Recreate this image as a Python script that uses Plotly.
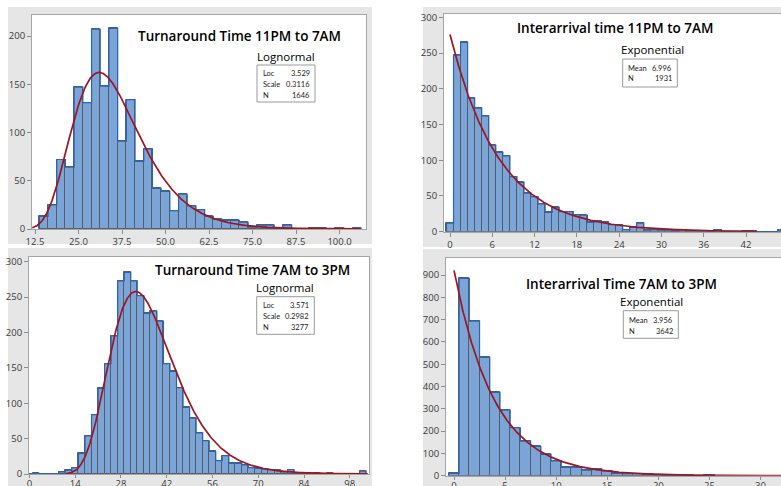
import numpy as np
import plotly.graph_objects as go

W, H = 781, 486

# ---------------- data ----------------
# Panel 1: Turnaround Time 11PM to 7AM (lognormal fit)
tat_night_title = "Turnaround Time 11PM to 7AM"
tat_night_dist = "Lognormal"
tat_night_loc = 3.529
tat_night_scale = 0.3116
tat_night_n = 1646
tat_night_bin_start = 13.75
tat_night_bin_width = 2.5
tat_night_counts = [13, 25, 72, 64, 147, 131, 207, 148, 208, 91, 134, 70, 83, 42, 39, 19,
                    36, 24, 20, 13, 10, 9, 9, 7, 2, 4, 4, 0, 4, 0, 0, 1, 1, 0, 1, 0, 1]
tat_night_xticks = [12.5, 25.0, 37.5, 50.0, 62.5, 75.0, 87.5, 100.0]
tat_night_yticks = [0, 50, 100, 150, 200]

# Panel 2: Interarrival time 11PM to 7AM (exponential fit)
ia_night_title = "Interarrival time 11PM to 7AM"
ia_night_dist = "Exponential"
ia_night_mean = 6.996
ia_night_n = 1931
ia_night_bin_start = -0.5
ia_night_bin_width = 1.0
ia_night_counts = [12, 247, 265, 187, 173, 162, 121, 111, 106, 77, 69, 54, 49, 39, 27, 34,
                   28, 28, 24, 23, 13, 15, 13, 10, 9, 3, 6, 12, 2, 3, 2, 2, 1, 3, 1, 1,
                   1, 0, 3, 0, 0, 0, 1, 1, 0, 0, 0, 2]
ia_night_xticks = [0, 6, 12, 18, 24, 30, 36, 42]
ia_night_yticks = [0, 50, 100, 150, 200, 250, 300]

# Panel 3: Turnaround Time 7AM to 3PM (lognormal fit)
tat_day_title = "Turnaround Time 7AM to 3PM"
tat_day_dist = "Lognormal"
tat_day_loc = 3.571
tat_day_scale = 0.2982
tat_day_n = 3277
tat_day_bin_start = -1.0
tat_day_bin_width = 2.0
tat_day_counts = [0, 1, 0, 0, 0, 3, 5, 9, 29, 54, 84, 121, 156, 195, 273, 285, 273, 252,
                  227, 230, 216, 156, 145, 122, 94, 79, 58, 47, 32, 19, 26, 15, 15, 13, 9,
                  8, 7, 6, 5, 3, 6, 0, 0, 0, 1, 0, 1, 0, 0, 0, 0, 4]
tat_day_xticks = [0, 14, 28, 42, 56, 70, 84, 98]
tat_day_yticks = [0, 50, 100, 150, 200, 250, 300]

# Panel 4: Interarrival Time 7AM to 3PM (exponential fit)
ia_day_title = "Interarrival Time 7AM to 3PM"
ia_day_dist = "Exponential"
ia_day_mean = 3.956
ia_day_n = 3642
ia_day_bin_start = -0.5
ia_day_bin_width = 1.0
ia_day_counts = [10, 885, 693, 531, 374, 294, 215, 155, 131, 96, 66, 37, 37, 25, 28, 21,
                 10, 9, 9, 6, 4, 1, 1, 1, 0, 3]
ia_day_xticks = [0, 5, 10, 15, 20, 25, 30]
ia_day_yticks = [0, 100, 200, 300, 400, 500, 600, 700, 800, 900]

# ---------------- styling ----------------
FONT = "Open Sans"
SMALL_FONT = "Lato"
BAR_FILL = "#7BA4D7"
BAR_SEP = "rgb(85,92,105)"
BAR_OUTLINE = "#2A64B4"
CURVE = "#A0141E"
PANEL_BG = "#E6E6E6"
FRAME = "#A6A6A6"


def px2x(p):
    return p / W


def px2y(p):
    return 1 - p / H


def lin(a, pa, b, pb, p):
    return a + (p - pa) * (b - a) / (pb - pa)


def lognormal_curve(mu, s, n, w, x0, x1):
    x = np.linspace(x0, x1, 500)
    pdf = np.exp(-((np.log(x) - mu) ** 2) / (2 * s * s)) / (x * s * np.sqrt(2 * np.pi))
    return x, pdf * n * w


def expo_curve(mean, n, w, x0, x1):
    x = np.linspace(x0, x1, 500)
    return x, n * w / mean * np.exp(-x / mean)


panels = [
    dict(title=tat_night_title, dist=tat_night_dist, counts=tat_night_counts,
         start=tat_night_bin_start, width=tat_night_bin_width,
         xticks=tat_night_xticks, xfmt="{:.1f}", yticks=tat_night_yticks,
         curve=lambda x0, x1: lognormal_curve(tat_night_loc, tat_night_scale, tat_night_n,
                                              tat_night_bin_width, x0, x1),
         curve_span=(11.7, 106.0),
         stats=[("Loc", f"{tat_night_loc:.3f}"), ("Scale", f"{tat_night_scale:.4f}"),
                ("N", f"{tat_night_n}")],
         plot=(32, 15, 366, 229), xcal=((12.5, 35), (100.0, 339.5)), ycal=((0, 229), (200, 36)),
         bg=(8, 7, 372, 244), right_cut=False, ticklen=4, standoff=0,
         title_xy=(240, 36), dist_xy=(286, 56.5),
         box=(257, 65, 315, 102), rows=[73.5, 84.3, 95.2], lab_x=260.5, val_x=311.5),
    dict(title=ia_night_title, dist=ia_night_dist, counts=ia_night_counts,
         start=ia_night_bin_start, width=ia_night_bin_width,
         xticks=ia_night_xticks, xfmt="{:d}", yticks=ia_night_yticks,
         curve=lambda x0, x1: expo_curve(ia_night_mean, ia_night_n, ia_night_bin_width, x0, x1),
         curve_span=(0.0, 43.5),
         stats=[("Mean", f"{ia_night_mean:.3f}"), ("N", f"{ia_night_n}")],
         plot=(444, 14, 781, 231.7), xcal=((0, 450), (42, 746)), ycal=((0, 231.7), (300, 17.3)),
         bg=(423, 7, 781, 247), right_cut=True, ticklen=4, standoff=0,
         title_xy=(614.7, 28.3), dist_xy=(652, 50),
         box=(622.7, 59, 677.3, 87), rows=[68.3, 79], lab_x=625.5, val_x=674),
    dict(title=tat_day_title, dist=tat_day_dist, counts=tat_day_counts,
         start=tat_day_bin_start, width=tat_day_bin_width,
         xticks=tat_day_xticks, xfmt="{:d}", yticks=tat_day_yticks,
         curve=lambda x0, x1: lognormal_curve(tat_day_loc, tat_day_scale, tat_day_n,
                                              tat_day_bin_width, x0, x1),
         curve_span=(11.0, 103.5),
         stats=[("Loc", f"{tat_day_loc:.3f}"), ("Scale", f"{tat_day_scale:.4f}"),
                ("N", f"{tat_day_n}")],
         plot=(29, 257, 369, 474), xcal=((0, 29.4), (98, 349.8)), ycal=((0, 474), (300, 261.7)),
         bg=(8, 248, 372, 486), right_cut=False, ticklen=3, standoff=-2,
         title_xy=(252, 270), dist_xy=(285, 287.5),
         box=(256.7, 296.7, 314.3, 334.3), rows=[305.5, 316.2, 327.2], lab_x=260.5, val_x=311),
    dict(title=ia_day_title, dist=ia_day_dist, counts=ia_day_counts,
         start=ia_day_bin_start, width=ia_day_bin_width,
         xticks=ia_day_xticks, xfmt="{:d}", yticks=ia_day_yticks,
         curve=lambda x0, x1: expo_curve(ia_day_mean, ia_day_n, ia_day_bin_width, x0, x1),
         curve_span=(0.0, 32.5),
         stats=[("Mean", f"{ia_day_mean:.3f}"), ("N", f"{ia_day_n}")],
         plot=(446, 258, 781, 475.7), xcal=((0, 454), (30, 760.5)), ycal=((0, 475.7), (900, 275)),
         bg=(423, 249, 781, 486), right_cut=True, ticklen=3, standoff=-2,
         title_xy=(621, 284.3), dist_xy=(651.5, 301),
         box=(623.3, 310.7, 678.3, 338.3), rows=[320.3, 331], lab_x=626.5, val_x=674.5),
]

fig = go.Figure()
shapes = []
annotations = []
layout_axes = {}

for i, p in enumerate(panels):
    k = "" if i == 0 else str(i + 1)
    xa, ya = "x" + k, "y" + k
    counts = np.array(p["counts"], dtype=float)
    nb = len(counts)
    edges = p["start"] + p["width"] * np.arange(nb + 1)
    centers = edges[:-1] + p["width"] / 2

    fig.add_trace(go.Bar(x=centers, y=counts, width=p["width"], xaxis=xa, yaxis=ya,
                         marker=dict(color=BAR_FILL, line=dict(color=BAR_SEP, width=1)),
                         showlegend=False, hoverinfo="x+y"))
    sx = np.concatenate([[edges[0]], edges[:-1], [edges[-1]]])
    sy = np.concatenate([[0], counts, [0]])
    fig.add_trace(go.Scatter(x=sx, y=sy, mode="lines", line=dict(color=BAR_OUTLINE, width=1.2, shape="hv"),
                             xaxis=xa, yaxis=ya, showlegend=False, hoverinfo="skip"))
    cx, cy = p["curve"](*p["curve_span"])
    fig.add_trace(go.Scatter(x=cx, y=cy, mode="lines", line=dict(color=CURVE, width=1.7),
                             xaxis=xa, yaxis=ya, showlegend=False, hoverinfo="skip"))

    x0p, y0p, x1p, y1p = p["plot"]
    (a, pa), (b, pb) = p["xcal"]
    (c, pc), (d, pd) = p["ycal"]
    xr = [lin(a, pa, b, pb, x0p), lin(a, pa, b, pb, x1p)]
    yr = [lin(c, pc, d, pd, y1p), lin(c, pc, d, pd, y0p)]
    tickfont = dict(family=FONT, size=9.5, color="#3A3A3A")
    layout_axes["xaxis" + k] = dict(
        domain=[px2x(x0p), px2x(x1p)], range=xr, anchor=ya, tickvals=p["xticks"],
        ticktext=[p["xfmt"].format(v) for v in p["xticks"]], showgrid=False, zeroline=False,
        showline=True, mirror=True, linecolor=FRAME, linewidth=1, ticks="outside",
        ticklen=p["ticklen"], ticklabelstandoff=p["standoff"], tickcolor="#8C8C8C",
        tickfont=tickfont, fixedrange=True, automargin=False)
    layout_axes["yaxis" + k] = dict(
        domain=[px2y(y1p), px2y(y0p)], range=yr, anchor=xa, tickvals=p["yticks"],
        showgrid=False, zeroline=False, showline=True, mirror=not p["right_cut"],
        linecolor=FRAME, linewidth=1, ticks="outside", ticklen=4, tickcolor="#8C8C8C",
        tickfont=tickfont, fixedrange=True, automargin=False)

    bx0, by0, bx1, by1 = p["bg"]
    shapes.append(dict(type="rect", xref="paper", yref="paper", x0=px2x(bx0), x1=px2x(bx1),
                       y0=px2y(by1), y1=px2y(by0), fillcolor=PANEL_BG, line=dict(width=0), layer="below"))
    shapes.append(dict(type="rect", xref="paper", yref="paper", x0=px2x(x0p), x1=px2x(x1p),
                       y0=px2y(y1p), y1=px2y(y0p), fillcolor="white", line=dict(width=0), layer="below"))
    # stats box
    qx0, qy0, qx1, qy1 = p["box"]
    shapes.append(dict(type="rect", xref="paper", yref="paper", x0=px2x(qx0), x1=px2x(qx1),
                       y0=px2y(qy1), y1=px2y(qy0), fillcolor="white",
                       line=dict(color="#9A9A9A", width=1), layer="above"))

    tx, ty = p["title_xy"]
    annotations.append(dict(text=p["title"], xref="paper", yref="paper", x=px2x(tx), y=px2y(ty),
                            xanchor="center", yanchor="middle", showarrow=False,
                            font=dict(family=FONT, size=13.5, color="#000000", weight=600)))
    dx, dy = p["dist_xy"]
    annotations.append(dict(text=p["dist"], xref="paper", yref="paper", x=px2x(dx), y=px2y(dy),
                            xanchor="center", yanchor="middle", showarrow=False,
                            font=dict(family=FONT, size=11.5, color="#000000")))
    for (lab, val), ry in zip(p["stats"], p["rows"]):
        annotations.append(dict(text=lab, xref="paper", yref="paper", x=px2x(p["lab_x"]), y=px2y(ry),
                                xanchor="left", yanchor="middle", showarrow=False,
                                font=dict(family=SMALL_FONT, size=7.5, color="#1A1A1A")))
        annotations.append(dict(text=val, xref="paper", yref="paper", x=px2x(p["val_x"]), y=px2y(ry),
                                xanchor="right", yanchor="middle", showarrow=False,
                                font=dict(family=SMALL_FONT, size=7.5, color="#1A1A1A")))

fig.update_layout(width=W, height=H, margin=dict(l=0, r=0, t=0, b=0, autoexpand=False), autosize=False,
                  paper_bgcolor="white", plot_bgcolor="white", bargap=0, barmode="overlay",
                  showlegend=False, shapes=shapes, annotations=annotations, **layout_axes)

fig.write_html("out.html", config=dict(displayModeBar=False),
               post_script="document.body.style.margin='0';document.body.style.overflow='hidden';")
